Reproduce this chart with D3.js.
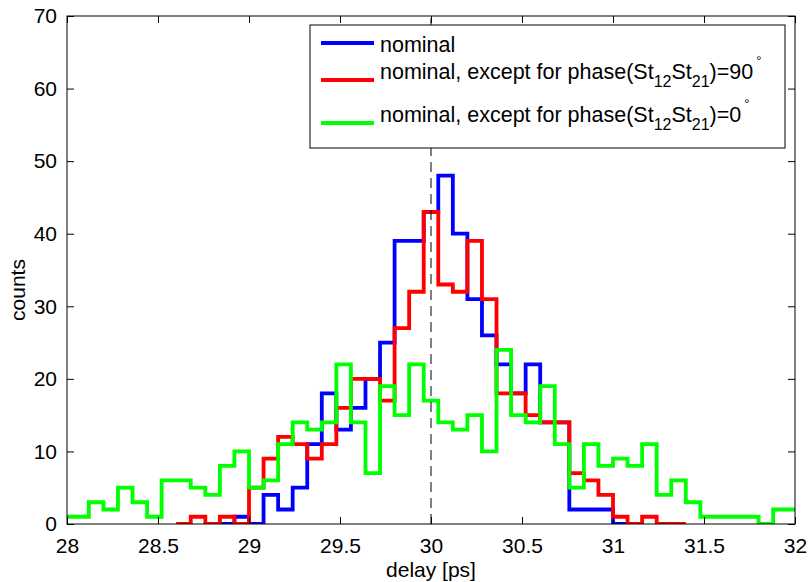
<!DOCTYPE html>
<html>
<head>
<meta charset="utf-8">
<script src="https://cdn.jsdelivr.net/npm/d3@7"></script>
<style>
  body { margin: 0; background: #fff; }
  svg text { font-family: "Liberation Sans", Arial, Helvetica, sans-serif; fill: #000; }
</style>
</head>
<body>
<svg id="chart" width="809" height="582"></svg>
<script>
// histogram bins: centres 28.00, 28.08, ... 32.00 (width 0.08)
const binWidth = 0.08;
const firstCenter = 28;

// counts per bin, each series starting at its own bin index
const blueStart = 11;
const blueCounts = [0, 1, 0, 4, 2, 5, 11, 18, 13, 16,
  20, 25, 39, 39, 43, 48, 40, 31, 26, 22,
  18, 22, 14, 14, 2, 2, 2, 0, 0];

const redStart = 8;
const redCounts = [0, 1, 0, 1, 0, 5, 9, 12, 11, 9,
  11, 16, 20, 20, 17, 27, 32, 43, 33, 32,
  39, 31, 18, 18, 15, 14, 14, 7, 6, 4,
  1, 0, 1, 0, 0];

const greenStart = 0;
const greenCounts = [1, 1, 3, 2, 5, 3, 1, 6, 6, 5,
  4, 8, 10, 5, 6, 11, 14, 13, 14, 22,
  14, 7, 19, 15, 22, 17, 14, 13, 15, 10,
  24, 15, 14, 19, 11, 5, 11, 8, 9, 8,
  11, 4, 6, 3, 1, 1, 1, 1, 0, 2,
  2];

const xTicks = [28, 28.5, 29, 29.5, 30, 30.5, 31, 31.5, 32];
const yTicks = [0, 10, 20, 30, 40, 50, 60, 70];
const nominalDelay = 30;

const series = [
  {start: blueStart, counts: blueCounts, color: '#0000ff'},
  {start: redStart, counts: redCounts, color: '#ff0000'},
  {start: greenStart, counts: greenCounts, color: '#00ff00'}
];

// plot box in pixels
const box = {left: 67, right: 795, top: 16, bottom: 524};

const svg = d3.select('#chart');

const xScale = d3.scaleLinear().domain([28, 32]).range([box.left, box.right]);
const yScale = d3.scaleLinear().domain([0, 70]).range([box.bottom, box.top]);

svg.append('defs').append('clipPath')
    .attr('id', 'plotClip')
  .append('rect')
    .attr('x', box.left)
    .attr('y', box.top)
    .attr('width', box.right - box.left)
    .attr('height', box.bottom - box.top);

//build stairs points from bin counts
const stairs = s => {
  const pts = [];
  s.counts.forEach((c, i) => {
    const centre = firstCenter + (s.start + i) * binWidth;
    pts.push([centre - binWidth / 2, c]);
    pts.push([centre + binWidth / 2, c]);
  });
  return pts;
};

const line = d3.line()
  .x(d => xScale(d[0]))
  .y(d => yScale(d[1]));

const plot = svg.append('g').attr('clip-path', 'url(#plotClip)');

plot.selectAll('path.hist')
  .data(series)
  .enter()
  .append('path')
    .attr('class', 'hist')
    .attr('d', d => line(stairs(d)))
    .attr('fill', 'none')
    .attr('stroke', d => d.color)
    .attr('stroke-width', 3.8)
    .attr('stroke-linejoin', 'miter');

// dashed line at nominal delay
plot.append('line')
  .attr('x1', xScale(nominalDelay))
  .attr('x2', xScale(nominalDelay))
  .attr('y1', yScale(0))
  .attr('y2', yScale(70))
  .attr('stroke', '#000')
  .attr('stroke-width', 1)
  .attr('stroke-dasharray', '10,6');

// axes: ticks inside on all four sides
const tickLen = 7;
const fmt = d => String(d);
const axisG = svg.append('g');

axisG.append('g')
  .attr('transform', `translate(0,${box.bottom})`)
  .call(d3.axisBottom(xScale).tickValues(xTicks).tickFormat(fmt)
    .tickSizeInner(-tickLen).tickSizeOuter(0).tickPadding(14))
  .call(g => g.selectAll('text').style('font-size', '21px'));

axisG.append('g')
  .attr('transform', `translate(0,${box.top})`)
  .call(d3.axisTop(xScale).tickValues(xTicks).tickSizeInner(-tickLen).tickSizeOuter(0).tickFormat(''));

axisG.append('g')
  .attr('transform', `translate(${box.left},0)`)
  .call(d3.axisLeft(yScale).tickValues(yTicks).tickFormat(fmt)
    .tickSizeInner(-tickLen).tickSizeOuter(0).tickPadding(10))
  .call(g => g.selectAll('text').style('font-size', '21px'));

axisG.append('g')
  .attr('transform', `translate(${box.right},0)`)
  .call(d3.axisRight(yScale).tickValues(yTicks).tickSizeInner(-tickLen).tickSizeOuter(0).tickFormat(''));

axisG.selectAll('.domain').remove();
axisG.selectAll('.tick line').attr('stroke', '#000');

svg.append('rect')
  .attr('x', box.left)
  .attr('y', box.top)
  .attr('width', box.right - box.left)
  .attr('height', box.bottom - box.top)
  .attr('fill', 'none')
  .attr('stroke', '#000')
  .attr('stroke-width', 1);

// axis labels
svg.append('text')
  .attr('x', (box.left + box.right) / 2)
  .attr('y', 577)
  .attr('text-anchor', 'middle')
  .style('font-size', '21px')
  .text('delay [ps]');

svg.append('text')
  .attr('transform', 'translate(25,290) rotate(-90)')
  .attr('text-anchor', 'middle')
  .style('font-size', '21px')
  .text('counts');

// legend
const legend = svg.append('g').attr('class', 'legend');
legend.append('rect')
  .attr('x', 310)
  .attr('y', 25)
  .attr('width', 475)
  .attr('height', 123)
  .attr('fill', '#fff')
  .attr('stroke', '#000')
  .attr('stroke-width', 1);

const legendRows = [
  {color: '#0000ff', lineY: 43, textY: 52, phase: null},
  {color: '#ff0000', lineY: 80, textY: 79, phase: '90'},
  {color: '#00ff00', lineY: 123, textY: 122, phase: '0'}
];

legendRows.forEach(r => {
  legend.append('line')
    .attr('x1', 321).attr('x2', 374)
    .attr('y1', r.lineY).attr('y2', r.lineY)
    .attr('stroke', r.color)
    .attr('stroke-width', 4);

  const t = legend.append('text')
    .attr('x', 380)
    .attr('y', r.textY)
    .style('font-size', '21.5px');

  if (r.phase === null) {
    t.text('nominal');
    return;
  }
  t.append('tspan').text('nominal, except for phase(St');
  t.append('tspan').attr('dy', 8).style('font-size', '16px').text('12');
  t.append('tspan').attr('dy', -8).text('St');
  t.append('tspan').attr('dy', 8).style('font-size', '16px').text('21');
  t.append('tspan').attr('dy', -8).text(')=' + r.phase);
  t.append('tspan').attr('dy', -14).attr('dx', 3).style('font-size', '13px').text('°');
});
</script>
</body>
</html>
